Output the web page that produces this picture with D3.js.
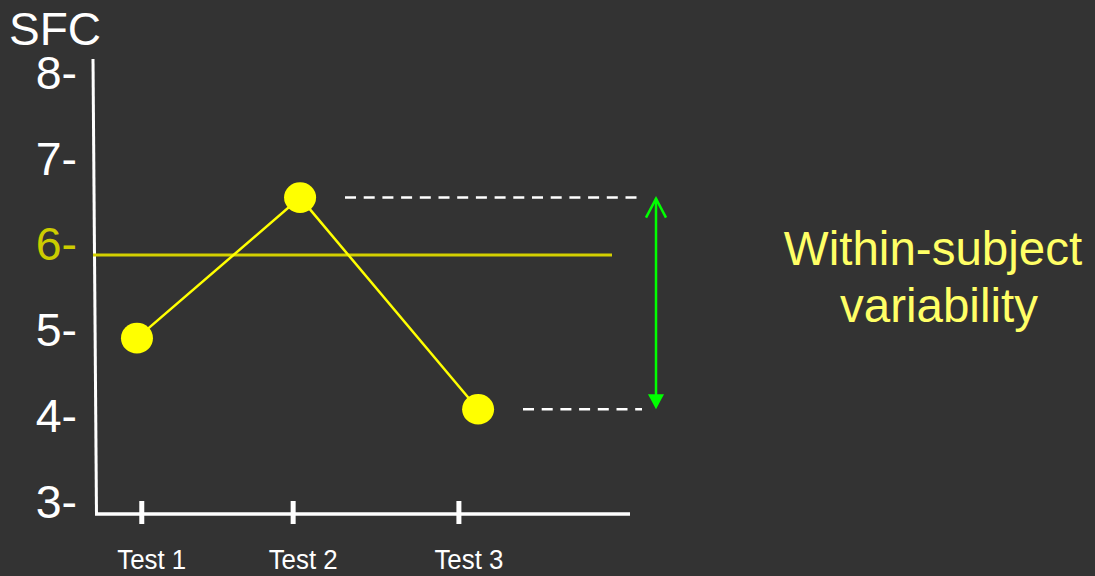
<!DOCTYPE html>
<html>
<head>
<meta charset="utf-8">
<script src="https://cdn.jsdelivr.net/npm/d3@7"></script>
<style>
html,body{margin:0;padding:0;background:#333333;}
svg{display:block;}
text{font-family:"Liberation Sans",Arial,sans-serif;}
</style>
</head>
<body>
<script>
// ---- data ----
const yTickValues = [3, 4, 5, 6, 7, 8];
const yTickLabels = ["3-", "4-", "5-", "6-", "7-", "8-"];
const categories = ["Test 1", "Test 2", "Test 3"];
const categoryPos = [0.84, 3.68, 6.79];      // x positions of ticks (x-scale units)
const pointPos = [0.75, 3.81, 7.15];         // x positions of the measured points
const sfcValues = [4.90, 6.54, 4.07];        // SFC measured at each test
const meanValue = 5.87;                      // horizontal reference line
const yLabelTitle = "SFC";
const annotation = ["Within-subject", "variability"];

const W = 1095, H = 576;
const svg = d3.select("body").append("svg").attr("width", W).attr("height", H);
svg.append("rect").attr("width", W).attr("height", H).attr("fill", "#333333");

const y = d3.scaleLinear().domain([3, 8]).range([501, 72.5]);
const x = d3.scaleLinear().domain([0, 10]).range([97, 630]);

// y axis line (slightly slanted as in the reference)
svg.append("line").attr("x1", 93).attr("y1", 59).attr("x2", 96.5).attr("y2", 515)
  .attr("stroke", "#ffffff").attr("stroke-width", 3);
// x axis line
svg.append("line").attr("x1", 95).attr("y1", 514).attr("x2", x(10)).attr("y2", 514)
  .attr("stroke", "#ffffff").attr("stroke-width", 3.5);

// y tick labels
svg.selectAll("text.ylab").data(yTickValues).enter().append("text")
  .attr("class", "ylab")
  .attr("x", 77).attr("y", d => y(d) + 16.5)
  .attr("text-anchor", "end")
  .attr("font-size", 46.5)
  .attr("fill", d => d === 6 ? "#cccc00" : "#ffffff")
  .text((d, i) => yTickLabels[i]);

svg.append("text").attr("x", 9).attr("y", 45).attr("font-size", 46)
  .attr("fill", "#ffffff").text(yLabelTitle);

// x ticks
svg.selectAll("line.xtick").data(categoryPos).enter().append("line")
  .attr("class", "xtick")
  .attr("x1", d => x(d)).attr("x2", d => x(d))
  .attr("y1", 501).attr("y2", 524)
  .attr("stroke", "#ffffff").attr("stroke-width", 5);

svg.selectAll("text.xlab").data(categories).enter().append("text")
  .attr("class", "xlab")
  .attr("x", (d, i) => x(categoryPos[i]) + 10)
  .attr("y", 569)
  .attr("text-anchor", "middle")
  .attr("font-size", 27)
  .attr("textLength", 69)
  .attr("lengthAdjust", "spacingAndGlyphs")
  .attr("fill", "#ffffff")
  .text(d => d);

// mean line
svg.append("line").attr("x1", 93).attr("x2", 612)
  .attr("y1", y(meanValue)).attr("y2", y(meanValue))
  .attr("stroke", "#d4d000").attr("stroke-width", 3);

// connecting line
const pts = sfcValues.map((v, i) => [x(pointPos[i]), y(v)]);
svg.append("path").attr("d", d3.line()(pts))
  .attr("fill", "none").attr("stroke", "#ffff00").attr("stroke-width", 2.5);

svg.selectAll("ellipse.pt").data(pts).enter().append("ellipse")
  .attr("class", "pt")
  .attr("cx", d => d[0]).attr("cy", d => d[1])
  .attr("rx", 16).attr("ry", 15.3)
  .attr("fill", "#ffff00");

// dashed range lines
const maxV = d3.max(sfcValues), minV = d3.min(sfcValues);
svg.append("line").attr("x1", 345).attr("x2", 637)
  .attr("y1", y(maxV)).attr("y2", y(maxV))
  .attr("stroke", "#ffffff").attr("stroke-width", 2.5).attr("stroke-dasharray", "11,7.7");
svg.append("line").attr("x1", 523).attr("x2", 642)
  .attr("y1", y(minV)).attr("y2", y(minV))
  .attr("stroke", "#ffffff").attr("stroke-width", 2.5).attr("stroke-dasharray", "11,7.7");

// green double arrow
const ax = 656, ay1 = y(maxV) + 1, ay2 = y(minV);
svg.append("line").attr("x1", ax).attr("x2", ax).attr("y1", ay1).attr("y2", ay2 - 6)
  .attr("stroke", "#00ff00").attr("stroke-width", 2.5);
svg.append("path")
  .attr("d", `M${ax - 10},${ay1 + 19} L${ax},${ay1} L${ax + 10},${ay1 + 19}`)
  .attr("fill", "none").attr("stroke", "#00ff00").attr("stroke-width", 2.5);
svg.append("path")
  .attr("d", `M${ax - 8},${ay2 - 15} L${ax + 8},${ay2 - 15} L${ax},${ay2} Z`)
  .attr("fill", "#00ff00");

// annotation
svg.selectAll("text.ann").data(annotation).enter().append("text")
  .attr("class", "ann")
  .attr("x", (d, i) => i === 0 ? 933 : 939)
  .attr("y", (d, i) => i === 0 ? 265 : 322)
  .attr("text-anchor", "middle")
  .attr("font-size", 47.5)
  .attr("fill", "#ffff66")
  .text(d => d);
</script>
</body>
</html>
